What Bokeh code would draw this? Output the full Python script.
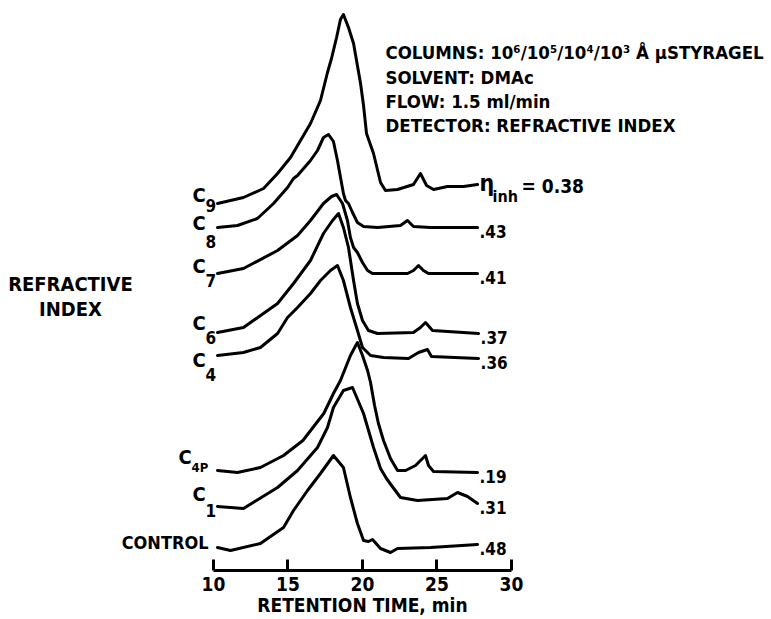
from bokeh.plotting import figure
from bokeh.models import Range1d, FixedTicker, ColumnDataSource
from bokeh.embed import file_html
from bokeh.resources import INLINE
from bokeh.core.properties import value

FONT = "'DejaVu Sans Condensed', Lato"

# ---------------- data (retention time in min, RI response in stacked arbitrary units) ----------------
samples = ["C9", "C8", "C7", "C6", "C4", "C4P", "C1", "CONTROL"]
sub_labels = ["9", "8", "7", "6", "4", "4P", "1"]
inherent_viscosity = ["0.38", ".43", ".41", ".37", ".36", ".19", ".31", ".48"]
x_ticks = [10, 15, 20, 25, 30]

t_c9 = [10.27, 12.01, 13.36, 14.30, 15.17, 15.84, 16.51, 17.18, 17.65, 17.92, 18.26, 18.52, 18.72, 19.06,
        19.40, 19.87, 20.07, 20.27, 20.74, 21.21, 21.54, 22.35, 23.42, 23.89, 24.30, 24.77, 25.70, 26.78, 27.72]
r_c9 = [367, 373, 382, 397, 413, 430, 447, 470, 498, 512, 533, 551, 556, 543,
        527, 487, 465, 437, 417, 388, 380, 381, 386, 397, 385, 381, 384, 384, 386]

t_c8 = [10.27, 11.61, 12.95, 14.03, 14.97, 15.37, 15.64, 16.51, 16.98, 17.38, 17.72, 18.05, 18.32, 18.72,
        18.86, 19.06, 19.33, 19.66, 20.07, 21.01, 22.55, 23.02, 23.42, 24.56, 27.72]
r_c8 = [343, 345, 352, 367, 383, 392, 395, 410, 420, 433, 436, 429, 410, 377,
        370, 367, 358, 348, 344, 343, 345, 350, 344, 343, 343]

t_c7 = [10.27, 12.01, 14.30, 15.64, 16.51, 17.38, 17.92, 18.26, 18.66, 18.99, 19.19, 19.40, 19.66, 20.00,
        20.34, 20.67, 21.41, 23.02, 23.42, 23.76, 24.09, 24.43, 27.72]
r_c7 = [297, 302, 320, 335, 350, 367, 374, 376, 367, 350, 333, 323, 318, 308,
        300, 297, 297, 297, 300, 305, 300, 297, 297]

t_c6 = [10.27, 12.01, 14.30, 15.37, 16.51, 17.38, 17.99, 18.39, 18.72, 19.06, 19.40, 19.66, 20.00, 20.40,
        21.01, 23.42, 23.89, 24.23, 24.70, 27.79]
r_c6 = [238, 243, 267, 287, 310, 337, 350, 357, 343, 323, 290, 267, 250, 240,
        237, 238, 243, 248, 240, 237]

t_c4 = [10.27, 12.01, 13.15, 14.30, 14.97, 15.64, 16.51, 17.18, 17.85, 18.32, 18.72, 19.19, 19.66, 20.00,
        20.54, 21.41, 23.09, 23.76, 24.36, 24.63, 27.79]
r_c4 = [215, 218, 223, 237, 253, 263, 277, 290, 300, 305, 290, 263, 240, 223,
        215, 213, 212, 218, 221, 214, 212]

t_c4p = [10.27, 11.61, 13.15, 14.70, 16.00, 17.40, 18.05, 18.52, 19.19, 19.66, 20.00, 20.34, 20.54, 20.81,
         21.07, 21.41, 21.88, 22.35, 22.89, 23.56, 24.23, 24.43, 24.77, 27.72]
r_c4p = [100, 98, 103, 115, 130, 157, 177, 190, 215, 228, 215, 200, 188, 165,
         147, 130, 112, 100, 100, 105, 115, 105, 99, 98]

t_c1 = [10.27, 12.01, 14.30, 15.64, 16.98, 17.65, 18.05, 18.72, 19.33, 20.07, 20.74, 21.21, 21.61, 21.95,
        22.55, 23.69, 25.70, 26.38, 27.05, 27.72]
r_c1 = [64, 62, 83, 100, 123, 143, 163, 180, 183, 157, 123, 102, 92, 85,
        73, 70, 72, 78, 74, 67]

t_ctrl = [10.27, 11.14, 13.15, 14.70, 15.37, 16.31, 17.18, 18.05, 18.72, 19.19, 19.66, 20.07, 20.40, 20.67,
          21.21, 21.88, 22.35, 24.56, 27.72]
r_ctrl = [23, 20, 27, 43, 60, 80, 97, 115, 103, 73, 47, 30, 29, 31,
          22, 18, 22, 23, 26]

traces = [(t_c9, r_c9), (t_c8, r_c8), (t_c7, r_c7), (t_c6, r_c6), (t_c4, r_c4),
          (t_c4p, r_c4p), (t_c1, r_c1), (t_ctrl, r_ctrl)]

# ---------------- figure ----------------
p = figure(width=771, height=619, x_range=Range1d(-4.295, 47.45), y_range=Range1d(-49, 570),
           output_backend="svg", toolbar_location=None, y_axis_location=None,
           min_border=0, min_border_left=0, min_border_right=0, min_border_top=0, min_border_bottom=0)
p.outline_line_color = None
p.grid.visible = False
p.background_fill_color = "white"
p.border_fill_color = "white"

ax = p.xaxis[0]
ax.fixed_location = 0
ax.bounds = (10, 30)
ax.ticker = FixedTicker(ticks=x_ticks)
ax.axis_line_width = 3
ax.axis_line_color = "black"
ax.major_tick_line_width = 3
ax.major_tick_line_color = "black"
ax.major_tick_in = 11
ax.major_tick_out = 0
ax.minor_tick_in = 0
ax.minor_tick_out = 0
ax.major_label_standoff = 6
ax.major_label_text_font = FONT
ax.major_label_text_font_style = "bold"
ax.major_label_text_font_size = "19px"
ax.major_label_text_color = "black"
ax.axis_label = "RETENTION TIME, min"
ax.axis_label_standoff = 0
ax.axis_label_text_font = FONT
ax.axis_label_text_font_style = "bold"
ax.axis_label_text_font_size = "19px"
ax.axis_label_text_color = "black"

for t, r in traces:
    p.line(t, r, line_width=3, line_color="black", line_join="round", line_cap="round")

common = dict(text_font=value(FONT), text_font_style="bold", text_color="black", text_baseline="middle")

# left labels: "C" + subscript
x0 = [tr[0][0] for tr in traces[:7]]
y0 = [tr[1][0] for tr in traces[:7]]
left_src = ColumnDataSource(dict(
    x=x0, y=y0, c=["C"] * 7, s=sub_labels,
    cdx=[-25, -25, -25, -25, -25, -39, -25],
    cdy=[-9, -5, -8, -10, 4, -14, -13],
    sdx=[-12, -12, -12, -12, -12, -26, -12],
    sdy=[2, 14, 7, 5, 19, -3, 4],
    sfs=["17px", "17px", "17px", "17px", "17px", "13px", "17px"],
))
p.text(x="x", y="y", text="c", x_offset="cdx", y_offset="cdy", source=left_src,
       text_align="left", text_font_size="20px", **common)
p.text(x="x", y="y", text="s", x_offset="sdx", y_offset="sdy", source=left_src,
       text_align="left", text_font_size="sfs", **common)
p.text(x=[t_ctrl[0]], y=[r_ctrl[0]], text=[samples[7]], x_offset=-9, y_offset=-5,
       text_align="right", text_font_size="18px", **common)

# right labels: inherent viscosity
xr = [tr[0][-1] for tr in traces[1:]]
yr = [tr[1][-1] for tr in traces[1:]]
p.text(x=xr, y=yr, text=inherent_viscosity[1:], x_offset=2, y_offset=4,
       text_align="left", text_font_size="17px", **common)

# eta label for C9
p.text(x=[t_c9[-1]], y=[r_c9[-1]], text=["η"], x_offset=2, y_offset=-2,
       text_align="left", text_font_size="23px", **common)
p.text(x=[t_c9[-1]], y=[r_c9[-1]], text=["inh"], x_offset=15, y_offset=12,
       text_align="left", text_font_size="16px", **common)
p.text(x=[t_c9[-1]], y=[r_c9[-1]], text=["= " + inherent_viscosity[0]], x_offset=44, y_offset=1,
       text_align="left", text_font_size="19px", **common)

# y-axis caption
p.text(x=[0.40, 0.40], y=[287, 262], text=["REFRACTIVE", "INDEX"], text_align="center",
       text_font_size="20px", **common)

# conditions block
cond = ["COLUMNS: 10⁶/10⁵/10⁴/10³ Å µSTYRAGEL", "SOLVENT: DMAc", "FLOW: 1.5 ml/min",
        "DETECTOR: REFRACTIVE INDEX"]
p.text(x=[21.54] * 4, y=[518, 493, 469, 445], text=cond, text_align="left",
       text_font_size="18.5px", **common)

open("out.html", "w").write(file_html(p, INLINE))
